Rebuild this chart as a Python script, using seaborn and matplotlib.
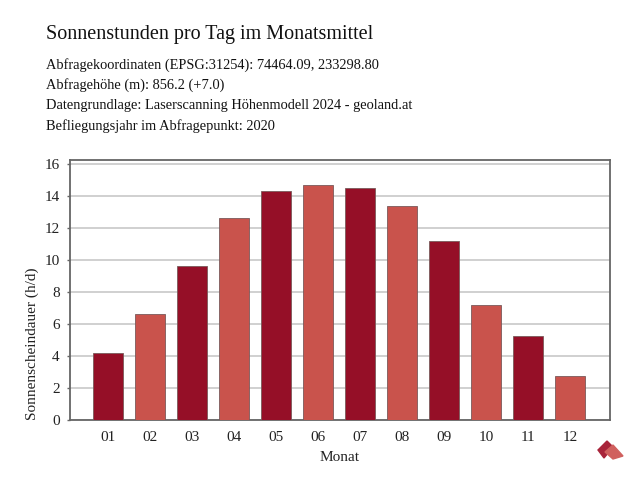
import matplotlib
matplotlib.use("Agg")
import matplotlib.pyplot as plt
import seaborn as sns
import pandas as pd
from matplotlib.patches import Polygon
from matplotlib.transforms import Affine2D

months = ["01", "02", "03", "04", "05", "06", "07", "08", "09", "10", "11", "12"]
sun_hours = [4.2, 6.6, 9.6, 12.6, 14.3, 14.7, 14.5, 13.4, 11.2, 7.2, 5.25, 2.76]
title = "Sonnenstunden pro Tag im Monatsmittel"
info_lines = [
    "Abfragekoordinaten (EPSG:31254): 74464.09, 233298.80",
    "Abfragehöhe (m): 856.2 (+7.0)",
    "Datengrundlage: Laserscanning Höhenmodell 2024 - geoland.at",
    "Befliegungsjahr im Abfragepunkt: 2020",
]
dark = "#950F27"
light = "#C9534C"

sns.set_theme(style="white")
plt.rcParams["font.family"] = ["Liberation Serif", "DejaVu Serif"]

df = pd.DataFrame({"Monat": months, "Sonne": sun_hours})
palette = [dark if i % 2 == 0 else light for i in range(len(months))]

fig = plt.figure(figsize=(6.4, 4.8), dpi=100)
ax = fig.add_axes([70 / 640, 1 - 420 / 480, 540 / 640, 260 / 480])

sns.barplot(data=df, x="Monat", y="Sonne", hue="Monat", palette=palette,
            saturation=1, legend=False, width=0.714, ax=ax,
            edgecolor="#7a5a5a", linewidth=0.6, zorder=3)

ax.set_ylim(0, 16.25)
ax.set_xlim(-0.91, 11.945)
ax.set_yticks(range(0, 17, 2))
ax.yaxis.grid(True, color="#C8C8C8", linewidth=1.2, zorder=0)
ax.xaxis.grid(False)
ax.set_axisbelow(True)
for s in ax.spines.values():
    s.set_color("#666666")
    s.set_linewidth(1.3)
ax.tick_params(axis="y", labelsize=11, colors="#222222", length=2.5, width=1,
               pad=5, left=True, color="#666666")
ax.tick_params(axis="x", labelsize=11, colors="#222222", length=0, pad=8)
ax.set_xlabel("Monat", fontsize=11, color="#222222", labelpad=5)
ax.set_ylabel("Sonnenscheindauer (h/d)", fontsize=11, color="#222222",
              labelpad=4, loc="bottom")

fig.text(46 / 640, 1 - 34 / 480, title, fontsize=14.5, va="center", ha="left", color="#111111")
for i, line in enumerate(info_lines):
    fig.text(46 / 640, 1 - (65 + 20.4 * i) / 480, line, fontsize=10.4,
             va="center", ha="left", color="#111111")

# small logo in the bottom right corner
flip = Affine2D().scale(1, -1).translate(0, 480)
logo1 = Polygon([(598, 450), (607, 441), (613, 447), (604, 458)], closed=True, color="#A8243A")
logo2 = Polygon([(605, 452), (613, 445), (623, 456), (613, 459)], closed=True, color="#D0605E")
for p in (logo1, logo2):
    p.set_transform(flip)
    fig.patches.append(p)

fig.savefig("out.png", dpi=100)
